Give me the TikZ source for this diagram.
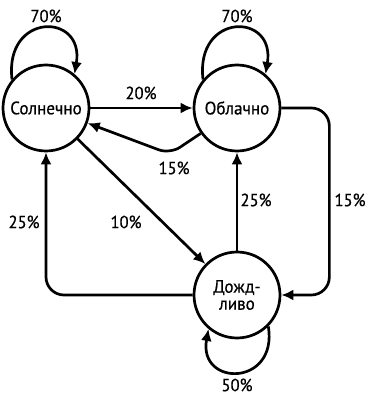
\documentclass[tikz,border=0pt]{standalone}
\usepackage{fontspec}
\setmainfont[FakeStretch=0.95,FakeBold=0.6]{PT Sans}
\usetikzlibrary{arrows.meta}
\begin{document}
\begin{tikzpicture}[x=1pt,y=1pt,
  state/.style={circle,draw,line width=2.7pt,minimum size=86pt,inner sep=0pt,align=center,font=\fontsize{18}{18}\selectfont},
  edge/.style={line width=2.7pt,-{Latex[length=12pt,width=11pt]},rounded corners=18pt},
  prob/.style={font=\fontsize{17.5}{18}\selectfont}]
\useasboundingbox (0,0) rectangle (370,397);
\node [state](sun) at (46,289) {Солнечно};
\node [state](cloud) at (237,289) {Облачно};
\node [state](rain) at (237,102) {Дожд-\\[-1pt]ливо};
\coordinate (bend) at (170,243);
\draw [edge](sun.140) .. controls (4,385) and (85,385) .. (sun.50);
\draw [edge](cloud.140) .. controls (195,385) and (276,385) .. (cloud.50);
\draw [edge](rain.-45) .. controls (278,10) and (198,10) .. (rain.-130);
\draw [edge](sun) -- (cloud);
\draw [edge,rounded corners=12pt](cloud.215) -- (bend) -- (sun.-20);
\draw [edge](sun) -- (rain);
\draw [edge](rain) -| (sun);
\draw [edge](rain) -- (cloud);
\draw [edge](cloud.east) -- ++(48,0) |- (rain.east);
\node [prob](p1) at (46,381) {70\%};
\node [prob](p2) at (237,381) {70\%};
\node [prob](p3) at (237,12) {50\%};
\node [prob](p4) at (141,304) {20\%};
\node [prob](p5) at (174,229) {15\%};
\node [prob](p6) at (126,175) {10\%};
\node [prob](p7) at (24,175) {25\%};
\node [prob](p8) at (256,197) {25\%};
\node [prob](p9) at (350,197) {15\%};
\end{tikzpicture}
\end{document}
